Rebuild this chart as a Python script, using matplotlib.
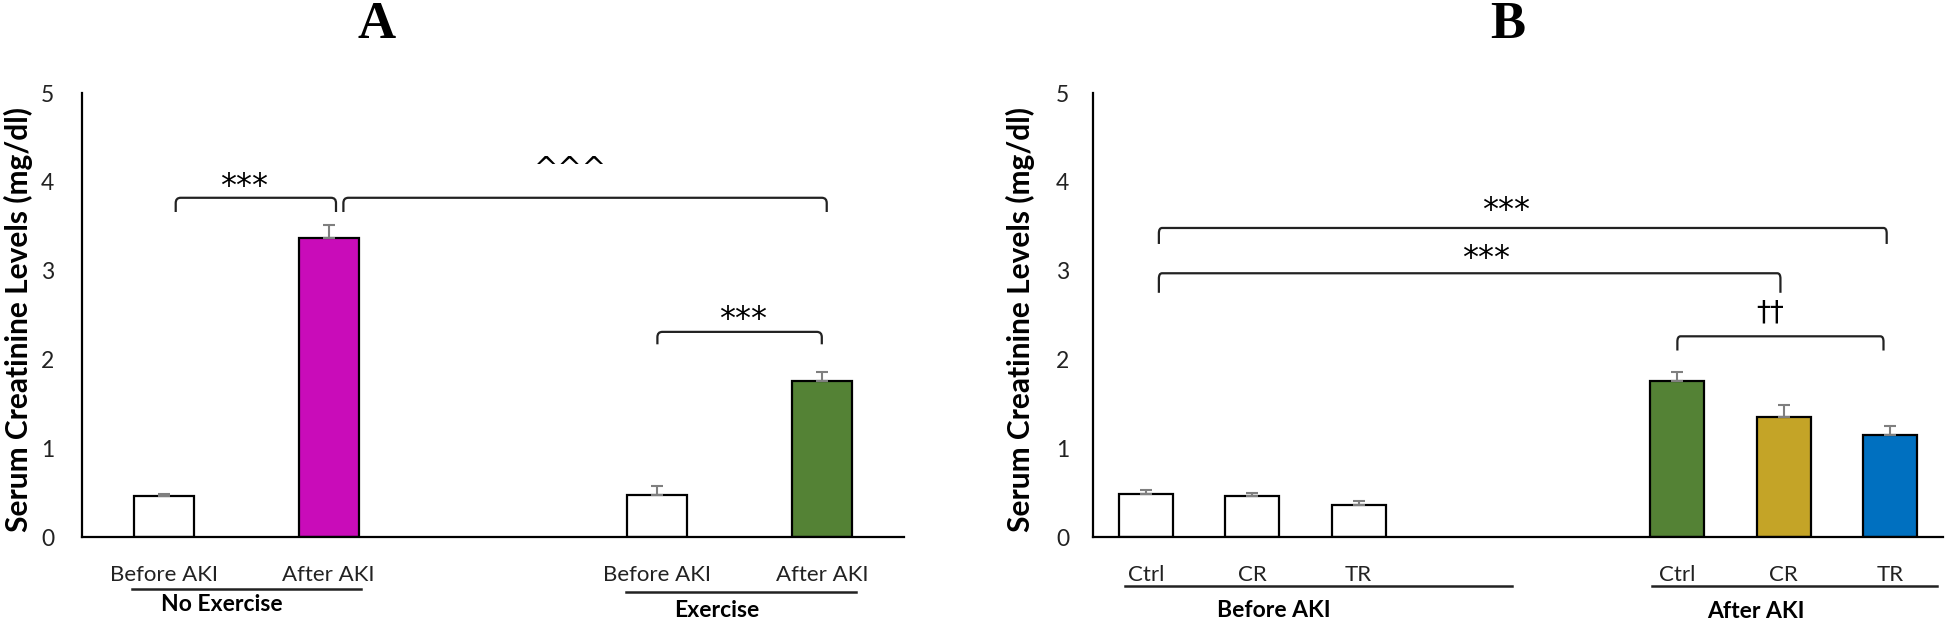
import matplotlib
matplotlib.use('Agg')
import matplotlib.pyplot as plt
from matplotlib.path import Path
from matplotlib.patches import PathPatch
import matplotlib.transforms as mtransforms

# ---------------- data ----------------
# Panel A
a_labels = ['Before AKI', 'After AKI', 'Before AKI', 'After AKI']
a_values = [0.46, 3.37, 0.47, 1.76]
a_errors = [0.02, 0.14, 0.10, 0.10]
a_colors = ['white', '#C90CB9', 'white', '#548235']
a_groups = ['No Exercise', 'Exercise']
a_sig = ['***', '^^^', '***']

# Panel B
b_labels = ['Ctrl', 'CR', 'TR', 'Ctrl', 'CR', 'TR']
b_values = [0.48, 0.46, 0.36, 1.76, 1.35, 1.15]
b_errors = [0.045, 0.04, 0.04, 0.10, 0.14, 0.10]
b_colors = ['white', 'white', 'white', '#548235', '#C4A427', '#0070C0']
b_groups = ['Before AKI', 'After AKI']
b_sig = ['***', '***', '\u2020\u2020']

yticks = [0, 1, 2, 3, 4, 5]
ylabel = 'Serum Creatinine Levels (mg/dl)'
panel_titles = ['A', 'B']

# ---------------- layout ----------------
a_pos = [0, 1, 3, 4]
b_pos = [0, 1, 2, 5, 6, 7]
# brackets: (x1, x2, y, y_end, text_x, text_y)
a_brackets = [(0.07, 1.045, 3.82, 3.66, 0.485, 4.05),
              (1.09, 4.03, 3.82, 3.66, 2.47, 4.25),
              (3.00, 4.00, 2.31, 2.17, 3.52, 2.55)]
b_brackets = [(0.12, 6.97, 3.48, 3.30, 3.39, 3.78),
              (0.12, 5.97, 2.97, 2.75, 3.20, 3.24),
              (5.00, 6.94, 2.26, 2.10, 5.87, 2.53)]
# group underline: (x1, x2, y_line_axes, label_x, label_y_axes)
a_group_layout = [(-0.195, 1.20, -0.117, 0.35, -0.152),
                  (2.81, 4.21, -0.1245, 3.36, -0.165)]
b_group_layout = [(-0.20, 3.44, -0.110, 1.20, -0.165),
                  (4.76, 7.44, -0.110, 5.74, -0.168)]

FONT = ['Lato', 'DejaVu Sans']
plt.rcParams['font.family'] = FONT

W, H = 1946, 622
fig = plt.figure(figsize=(W / 100, H / 100), dpi=100)

ax_bottom = (H - 537) / H
ax_height = 444 / H
axA = fig.add_axes([82 / W, ax_bottom, (904 - 82) / W, ax_height])
axB = fig.add_axes([1093 / W, ax_bottom, (1943 - 1093) / W, ax_height])


def bracket(ax, x1, x2, y, yend, rx=0.03, ry=0.06):
    verts = [(x1, yend), (x1, y - ry), (x1, y), (x1 + rx, y),
             (x2 - rx, y), (x2, y), (x2, y - ry), (x2, yend)]
    codes = [Path.MOVETO, Path.LINETO, Path.CURVE3, Path.CURVE3,
             Path.LINETO, Path.CURVE3, Path.CURVE3, Path.LINETO]
    ax.add_patch(PathPatch(Path(verts, codes), fill=False, edgecolor='#222222',
                           lw=1.6, clip_on=False))


def sig_text(ax, x, y, s):
    if s.startswith('*'):
        # asterisks sit high in the glyph box: anchor on baseline
        ax.text(x, y - 0.2, s, ha='center', va='baseline', fontsize=23,
                family='DejaVu Sans')
    elif s.startswith('^'):
        ax.text(x, y - 0.2, s, ha='center', va='baseline', fontsize=21,
                family='DejaVu Sans')
    else:
        ax.text(x, y, s, ha='center', va='center', fontsize=20,
                family='DejaVu Sans')


def draw_panel(ax, pos, values, errors, colors, labels, groups, glayout,
               brackets, sigs, width, ylab_x, tick_pad):
    ax.bar(pos, values, width=width, color=colors, edgecolor='black',
           linewidth=1.6, zorder=2)
    ax.errorbar(pos, values, yerr=[[0] * len(errors), errors], fmt='none',
                ecolor='#7f7f7f', elinewidth=1.5, capsize=4.5, capthick=1.5,
                zorder=3)
    ax.set_ylim(0, 5)
    ax.set_yticks(yticks)
    ax.set_xticks(pos, labels)
    ax.tick_params(axis='x', length=0, pad=20, labelsize=16, labelcolor='#222222')
    ax.tick_params(axis='y', length=0, pad=tick_pad, labelsize=16.5, labelcolor='#222222')
    for s in ['top', 'right']:
        ax.spines[s].set_visible(False)
    for s in ['left', 'bottom']:
        ax.spines[s].set_linewidth(1.6)
        ax.spines[s].set_color('black')
    ax.set_ylabel(ylabel, fontsize=21.5, fontweight='bold', va='center')
    ax.yaxis.set_label_coords(ylab_x, 0.49)
    trans = mtransforms.blended_transform_factory(ax.transData, ax.transAxes)
    for g, (x1, x2, yl, lx, ly) in zip(groups, glayout):
        ax.plot([x1, x2], [yl, yl], color='#222222', lw=1.8, transform=trans,
                clip_on=False)
        ax.text(lx, ly, g, transform=trans, ha='center', va='center',
                fontsize=16.5, fontweight='bold')
    for (x1, x2, y, yend, tx, ty), s in zip(brackets, sigs):
        bracket(ax, x1, x2, y, yend)
        sig_text(ax, tx, ty, s)


draw_panel(axA, a_pos, a_values, a_errors, a_colors, a_labels, a_groups,
           a_group_layout, a_brackets, a_sig, 0.365, -0.077, 20)
axA.set_xlim(-0.5, 4.5)

draw_panel(axB, b_pos, b_values, b_errors, b_colors, b_labels, b_groups,
           b_group_layout, b_brackets, b_sig, 0.51, -0.0855, 17)
axB.set_xlim(-0.5, 7.5)

fig.text(377 / W, 1 - 1 / H, panel_titles[0], ha='center', va='top',
         fontsize=38, fontweight='bold', family='Liberation Serif')
fig.text(1508 / W, 1 - 1 / H, panel_titles[1], ha='center', va='top',
         fontsize=38, fontweight='bold', family='Liberation Serif')

fig.savefig('out.png', dpi=100, facecolor='white')
